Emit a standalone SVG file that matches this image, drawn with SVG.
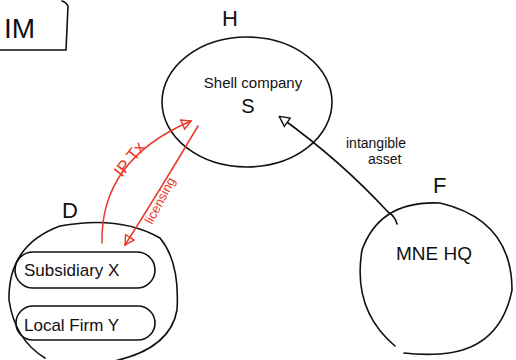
<svg xmlns="http://www.w3.org/2000/svg" width="516" height="360" viewBox="0 0 516 360">
<defs>
<style>
.ink{fill:none;stroke:#111;stroke-width:1.6;stroke-linecap:round}
.red{fill:none;stroke:#e8382c;stroke-width:1.5;stroke-linecap:round}
.t{font-family:"Liberation Sans",Arial,sans-serif;fill:#111}
.rt{font-family:"Liberation Sans",Arial,sans-serif;fill:#e8382c}
</style>
<marker id="tri" viewBox="0 0 12 12" refX="10" refY="6" markerWidth="12" markerHeight="12" orient="auto" markerUnits="userSpaceOnUse">
<path d="M1,1 L11,6 L1,11 Z" fill="#fff" stroke="#111" stroke-width="1.4"/>
</marker>
<marker id="redhead" viewBox="0 0 12 12" refX="10" refY="6" markerWidth="12" markerHeight="12" orient="auto" markerUnits="userSpaceOnUse">
<path d="M1,1 L10,6 L1,11 Z" fill="none" stroke="#e8382c" stroke-width="1.4"/>
</marker>
</defs>
<rect width="516" height="360" fill="#fff"/>
<g id="title">
<path class="ink" d="M0,50 L66,50 L68,6 Q66,2 62,1"/>
<text class="t" x="4" y="38" font-size="28">IM</text>
</g>
<g id="node-H">
<text class="t" x="222" y="26" font-size="22">H</text>
<ellipse class="ink" cx="247" cy="102" rx="85" ry="65"/>
<text class="t" x="253" y="88" font-size="15" text-anchor="middle">Shell company</text>
<text class="t" x="248" y="113" font-size="20" text-anchor="middle">S</text>
</g>
<g id="node-F">
<text class="t" x="433" y="193" font-size="22">F</text>
<path class="ink" d="M404,353 Q420,355 440,354 Q500,350 512,290 Q512,220 440,203 Q380,200 362,250 Q352,310 395,346"/>
<text class="t" x="434" y="260" font-size="19" text-anchor="middle">MNE HQ</text>
</g>
<g id="node-D">
<text class="t" x="62" y="218" font-size="22">D</text>
<path class="ink" d="M45,358 Q15,340 9,300 Q8,245 60,226 Q120,215 160,238 Q180,262 177,310 Q170,350 110,362"/>
<rect class="ink" x="15" y="252" width="140" height="36" rx="18"/>
<text class="t" x="24" y="276" font-size="17">Subsidiary X</text>
<rect class="ink" x="16" y="306" width="139" height="34" rx="17"/>
<text class="t" x="24" y="331" font-size="17">Local Firm Y</text>
</g>
<g id="connectors">
<path class="ink" d="M397,224 Q395,216 388,212 Q340,160 280,117" marker-end="url(#tri)"/>
<text class="t" x="346" y="148" font-size="14">intangible</text>
<text class="t" x="368" y="164" font-size="14">asset</text>
<path class="red" d="M102,243 Q100,160 191,121" marker-end="url(#redhead)"/>
<text class="rt" transform="translate(122,178) rotate(-52)" font-size="17">IP Tx</text>
<path class="red" d="M198,126 Q160,190 125,245" marker-end="url(#redhead)"/>
<text class="rt" transform="translate(152,225) rotate(-62)" font-size="13">licensing</text>
</g>
</svg>
